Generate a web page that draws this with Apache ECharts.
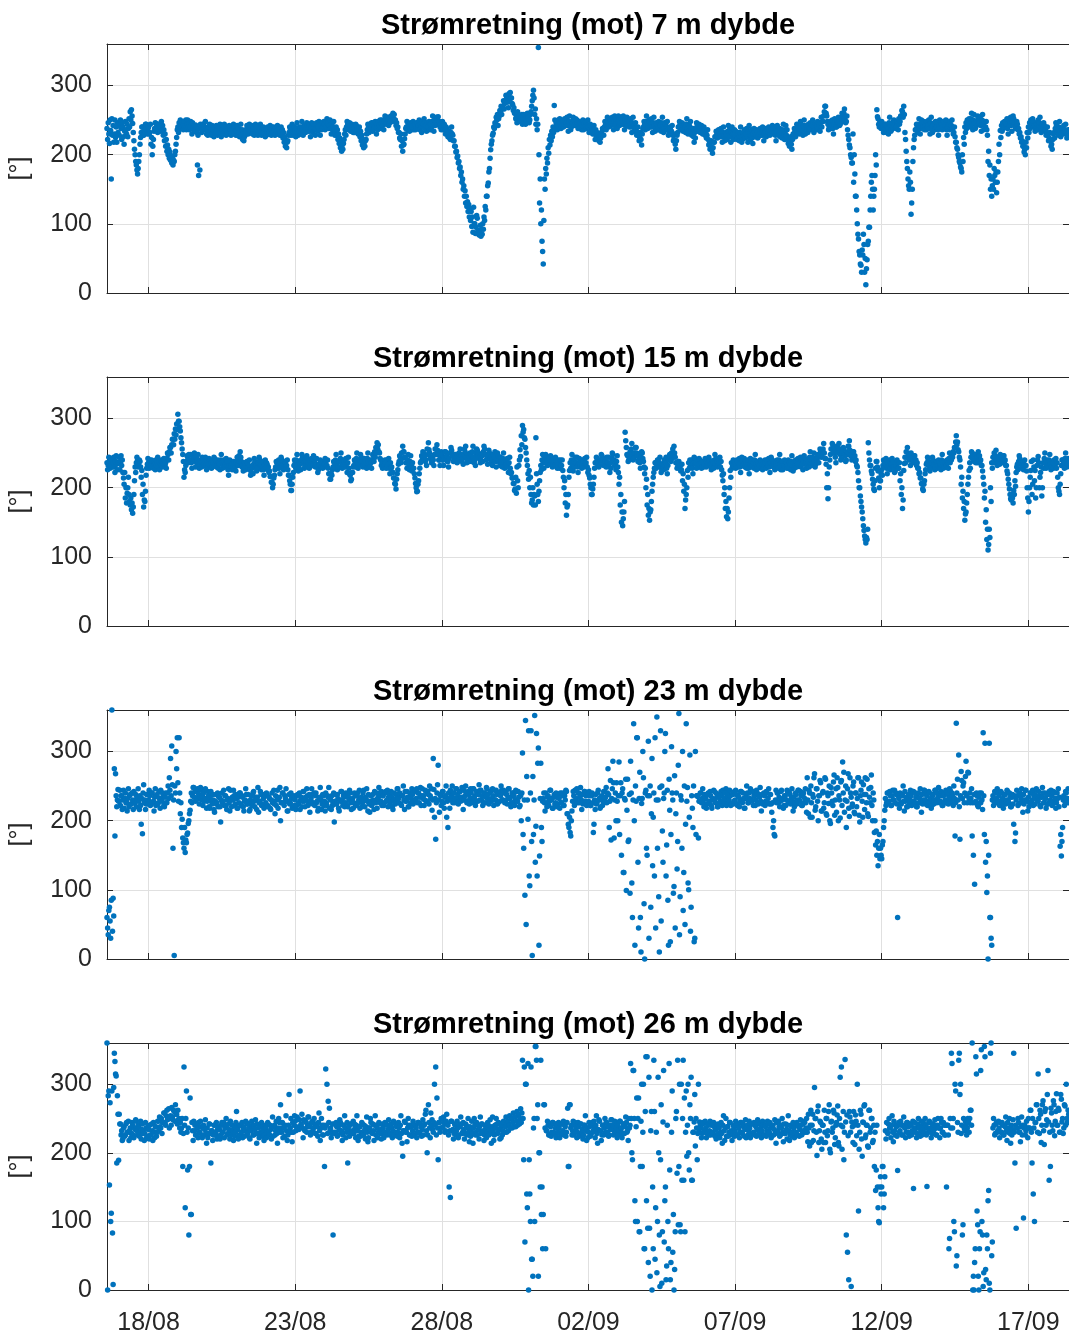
<!DOCTYPE html>
<html>
<head>
<meta charset="utf-8">
<script src="https://cdn.jsdelivr.net/npm/echarts@6/dist/echarts.min.js"></script>
<style>
  html, body { margin: 0; padding: 0; background: #fff; overflow: hidden; }
  #chart { width: 1069px; height: 1336px; }
</style>
</head>
<body>
<div id="chart"></div>
<script>
// Current direction (towards), half-hourly samples per measuring depth.
// Row 0 starts 16/08 14:00; every following row is one day (00:00-23:30) from 17/08 on.
const depths = [7, 15, 23, 26];
const tickLabels = ['18/08', '23/08', '28/08', '02/09', '07/09', '12/09', '17/09'];
const yTicks = [0, 100, 200, 300];

const dir7m = [
  [238,222,246,230,216,250,235,165,252,228,242,218,230,250,225,240,218,246,232,244],
  [228,242,250,238,222,246,240,226,215,234,248,236,230,244,226,238,252,240,262,250,265,256,245,232,220,208,200,190,185,178,172,180,190,200,215,225,232,240,240,228,228,238,236,244,244,232,230,238],
  [240,230,232,244,215,225,200,212,222,234,238,246,245,236,242,232,236,244,244,234,240,248,235,242,228,236,220,230,212,222,205,214,200,208,195,204,192,198,188,196,185,192,190,200,205,215,225,236],
  [240,232,246,238,250,242,238,246,244,236,248,240,242,250,236,244,250,240,245,236,240,248,238,230,246,238,242,234,235,243,240,232,185,228,170,238,178,244,240,232,236,244,244,236,240,248,238,230],
  [236,228,240,232,244,234,238,228,242,232,236,226,240,232,234,242,236,228,240,232,238,244,232,226,236,242,230,238,244,234,236,228,240,232,238,230,242,234,236,228,232,240,236,244,230,238,234,228],
  [234,242,228,238,232,226,236,244,228,236,222,230,220,226,228,236,234,242,238,230,236,244,240,232,234,242,230,236,238,228,236,244,232,240,236,228,240,234,236,244,234,228,238,232,240,236,234,226],
  [236,228,232,240,238,230,234,242,236,228,240,232,232,240,236,228,238,230,234,242,230,238,236,228,232,240,228,236,224,232,218,226,212,220,210,218,220,228,232,240,236,228,238,244,234,228,232,240],
  [234,226,238,246,236,228,232,240,238,230,240,248,236,228,234,242,240,232,238,246,242,234,236,244,234,226,238,246,240,232,244,236,236,228,238,246,242,234,240,248,236,228,244,236,246,238,240,248],
  [244,236,248,240,252,244,246,238,242,250,238,230,244,236,240,248,236,228,232,240,228,236,222,230,216,224,210,218,205,214,208,216,222,230,236,228,240,248,244,236,238,246,242,234,236,244,240,232],
  [240,232,236,244,242,234,238,230,232,240,226,234,220,228,214,222,210,218,212,220,222,230,236,244,240,232,244,236,238,246,242,234,246,238,240,248,238,230,244,236,248,240,242,250,246,238,250,242],
  [244,236,248,256,252,244,246,254,250,242,254,246,248,256,256,248,260,252,258,250,250,242,246,238,240,232,232,224,222,230,212,220,205,214,215,223,230,238,240,248,236,244,242,234,238,246,244,236],
  [240,248,236,244,244,236,238,246,246,238,242,250,236,244,240,232,248,240,244,252,238,246,242,234,246,238,240,248,236,244,244,236,248,256,242,234,250,242,246,254,252,244,255,247,248,240,244,236],
  [240,248,236,244,244,236,230,240,238,230,226,234,234,224,222,232,240,230,228,220,220,212,212,204,205,196,198,188,190,180,182,170,175,160,165,150,155,140,148,130,140,125,132,118,128,110,122,105],
  [118,96,110,88,124,100,100,86,95,112,108,90,90,84,86,98,82,92,85,100,92,110,105,125,120,140,140,155,159,175,180,195,207,215,220,228,231,240,238,246,245,254,250,258,242,252,256,264],
  [262,270,258,266,270,278,266,274,278,286,284,276,276,268,288,280,290,282,282,274,272,264,268,260,260,252,254,246,262,254,248,256,256,248,250,258,244,252,258,250,252,244,246,254,260,252,254,246],
  [250,258,262,270,278,286,293,282,258,266,244,252,236,244,355,200,130,165,100,120,75,60,42,105,165,150,180,172,195,188,210,202,222,214,228,220,234,226,240,232,271,250,238,246,244,236,242,250],
  [244,252,246,238,240,248,248,240,244,252,250,242,246,254,242,234,248,256,244,236,240,248,246,254,250,242,244,252,242,250,246,238,240,248,238,246,244,236,242,250,236,244,240,248,246,238,242,250],
  [240,232,236,244,242,234,238,230,234,242,230,222,236,228,232,224,228,220,226,218,224,232,230,238,236,228,240,248,244,236,246,254,248,240,242,250,250,242,246,254,244,236,248,256,242,250,246,238],
  [248,256,250,242,246,254,252,244,248,256,244,236,250,242,246,254,242,250,248,240,244,252,240,232,246,254,242,234,238,246,236,228,232,240,228,220,224,232,222,214,230,238,240,248,244,236,248,256],
  [246,238,242,250,248,240,244,252,240,232,246,254,242,234,238,246,244,236,240,248,236,244,242,234,246,254,240,232,238,246,244,236,240,248,236,228,232,240,238,230,234,242,228,220,222,230,215,208],
  [220,228,232,240,240,248,244,236,238,246,242,234,236,244,240,232,244,252,238,230,234,242,240,248,236,228,230,238,226,218,232,224,238,246,242,234,236,244,240,232,234,242,238,230,232,240,236,228],
  [232,224,228,236,222,214,216,208,212,220,208,202,210,218,218,226,226,234,232,224,228,236,234,226,230,238,226,218,232,240,228,220,224,232,230,222,234,242,228,236,226,218,232,240,230,222,228,236],
  [226,234,230,222,224,232,228,220,232,240,226,218,222,230,228,236,232,224,230,238,226,218,234,242,230,222,228,236,224,216,230,238,234,226,228,236,232,224,226,234,230,238,236,228,232,240,228,220],
  [230,238,234,226,228,236,232,240,236,228,230,238,234,242,238,230,232,240,228,220,234,242,236,228,230,238,226,234,232,224,236,244,230,222,234,242,228,236,224,216,220,212,218,226,215,208,222,230],
  [230,238,234,226,236,244,232,240,238,230,240,248,234,242,236,228,242,250,238,230,234,242,240,232,244,236,238,246,236,244,242,250,240,232,236,244,244,236,240,248,238,246,242,234,246,254,240,248],
  [248,256,262,270,270,260,256,248,244,236,240,248,246,238,242,250,238,230,244,252,248,240,240,248,246,254,250,242,244,252,252,260,256,248,260,266,254,246,248,256,236,228,222,214,210,200,196,188],
  [188,230,160,200,172,140,140,120,100,85,78,60,55,42,40,30,62,55,85,70,30,50,12,35,48,70,75,95,95,120,140,160,170,150,120,140,150,170,200,185,265,255,252,244,240,248,246,238],
  [248,240,240,232,236,244,244,236,232,240,238,230,246,254,242,234,236,244,240,248,250,242,246,238,240,248,244,236,252,244,248,256,256,264,262,254,270,258,232,222,205,190,180,165,155,150,175,160],
  [114,130,150,190,210,222,228,236,236,244,240,232,244,252,238,230,242,250,246,238,240,248,236,244,244,236,248,240,242,250,238,230,246,254,240,232,236,244,244,236,248,240,240,248,236,228,242,250],
  [238,246,244,236,240,248,246,238,242,250,236,228,240,248,244,236,248,240,242,250,238,230,232,240,226,218,218,210,208,200,196,190,188,182,180,175,200,190,225,215,240,232,246,238,250,242,244,252],
  [248,240,252,260,244,236,250,258,246,238,240,248,248,256,252,244,246,254,242,234,250,258,244,236,248,240,240,248,236,228,190,205,170,185,150,165,140,155,165,150,180,170,160,175,145,160,175,190],
  [215,200,235,225,242,234,246,238,240,248,248,240,244,252,238,230,250,242,246,254,242,234,248,256,252,244,246,238,240,248,244,236,238,230,232,224,226,218,220,212,212,204,208,200,218,210,232,224],
  [240,232,246,238,250,242,244,252,248,240,242,234,238,246,244,236,250,242,246,254,240,232,244,236,238,246,242,234,236,228,232,240,228,220,224,232,220,212,215,208,222,230,232,224,238,246,242,234],
  [236,228,240,248,234,226,230,238,238,230,242,234,236,244,232,224,228,236,234,226,230]
];

const dir15m = [
  [236,226,232,244,238,228,234,242,240,230,236,244,230,222,238,246,234,226,236,244],
  [236,226,238,246,232,240,222,214,205,222,185,200,178,192,200,215,190,180,175,185,168,178,163,172,190,210,230,222,236,244,240,230,232,240,238,230,215,225,190,205,172,182,180,195,218,228,234,242],
  [236,228,240,232,232,240,238,230,228,236,234,226,240,232,236,244,230,238,226,234,232,240,238,230,234,242,240,232,236,228,242,250,248,240,252,258,258,250,262,270,270,262,278,270,285,276,292,284],
  [306,296,296,288,282,272,265,256,248,238,215,226,222,232,238,246,244,236,248,240,240,248,236,228,246,238,242,250,238,230,244,236,240,248,236,228,232,240,238,230,244,236,240,232,236,244,234,226],
  [238,230,234,242,240,232,236,228,230,238,236,244,242,234,238,230,232,240,228,236,234,226,240,248,236,228,232,240,238,230,234,242,230,238,226,218,232,240,238,230,234,226,230,238,236,228,232,224],
  [236,244,240,232,246,238,252,244,238,230,232,224,228,236,234,226,230,238,236,228,232,240,226,218,222,230,228,220,234,242,238,230,232,224,228,236,236,244,240,232,234,226,230,238,226,218,232,240],
  [228,236,234,226,230,222,224,216,216,208,208,200,205,214,218,226,230,238,236,228,232,240,228,220,236,244,240,232,234,226,230,238,236,228,232,240,226,218,218,210,205,196,196,205,215,222,232,240],
  [236,228,240,248,232,224,228,236,234,226,240,248,244,236,236,228,232,240,238,246,242,234,236,228,230,238,234,242,240,232,246,238,238,230,234,242,230,222,226,234,232,240,238,230,236,228,230,238],
  [234,242,238,230,232,240,228,220,220,212,212,220,218,226,230,238,236,228,240,248,234,226,230,238,238,230,242,250,236,228,232,240,238,230,234,242,230,222,236,244,228,220,218,210,212,222,222,230],
  [232,240,238,230,242,250,236,228,232,240,240,248,244,236,238,230,234,242,240,232,236,228,242,250,238,230,232,240,236,228,240,248,246,238,252,244,258,250,265,256,262,252,250,242,240,232,236,228],
  [238,230,232,240,236,228,240,232,234,242,228,220,236,228,230,222,222,214,214,206,205,198,212,220,226,234,238,246,244,236,250,242,260,252,252,244,244,236,236,228,240,248,234,226,238,246,232,224],
  [236,228,228,220,214,206,200,194,195,205,210,220,228,236,238,246,244,252,250,242,246,238,240,232,256,248,265,255,250,242,244,236,236,244,240,232,248,256,256,248,262,254,248,240,240,232,244,252],
  [248,240,240,232,244,252,252,244,246,238,238,230,242,250,250,258,254,246,246,238,240,248,248,240,244,236,238,246,250,242,256,248,246,238,242,234,248,256,252,260,244,236,240,248,246,238,250,242],
  [246,238,252,260,244,236,240,232,248,256,254,246,250,242,244,236,240,248,246,238,252,260,256,248,248,240,242,234,246,254,250,242,244,236,240,232,248,240,244,252,238,230,242,250,246,238,240,232],
  [244,236,238,230,242,250,236,228,240,232,234,242,230,222,236,244,228,220,222,214,214,206,206,196,198,215,192,230,210,200,232,240,255,245,275,262,290,280,284,272,270,258,250,240,232,220,212,225],
  [200,215,190,178,182,200,175,190,188,175,272,220,205,190,180,195,210,222,232,226,240,248,236,228,244,236,248,240,240,232,236,244,242,234,246,238,238,230,234,242,240,232,244,236,236,228,232,240],
  [236,228,240,232,232,240,225,215,200,210,178,190,160,172,175,190,215,225,236,228,240,248,232,224,238,230,244,236,236,244,230,222,234,242,240,232,236,228,232,240,238,230,242,234,236,244,230,222],
  [226,218,214,205,200,190,190,198,205,215,228,236,236,244,242,234,238,230,232,240,240,248,246,238,240,232,234,242,238,230,244,236,236,244,230,222,236,228,242,250,248,240,240,232,234,226,238,246],
  [230,222,205,215,175,190,150,165,145,155,165,180,280,268,258,248,246,238,240,248,252,244,256,264,248,240,242,250,250,258,258,250,246,238,240,248,236,228,244,252,250,242,238,230,220,228,200,212],
  [175,190,160,170,153,165,168,180,195,205,215,222,228,236,236,228,232,240,240,232,236,244,230,222,226,234,234,226,240,232,236,244,228,220,232,240,240,248,246,238,250,242,256,248,260,250,244,236],
  [236,228,230,238,238,230,232,224,226,234,210,220,195,205,170,182,190,200,225,215,236,228,240,232,232,240,228,220,236,244,242,234,236,228,230,238,234,242,240,232,236,228,230,238,238,230,234,242],
  [238,230,232,240,236,244,240,232,234,226,230,238,236,228,240,248,234,242,238,230,232,240,236,244,230,238,226,218,210,220,190,200,170,180,158,170,155,165,185,200,225,215,236,228,232,240,238,230],
  [236,228,232,240,238,230,234,242,230,222,236,244,240,232,234,242,230,238,236,228,232,240,228,220,234,242,238,230,232,240,236,228,240,248,234,226,230,238,236,228,232,240,238,230,234,226,230,238],
  [232,240,236,228,240,232,234,242,230,222,236,244,232,240,238,230,234,226,228,236,232,240,236,228,240,248,234,226,230,238,226,234,232,240,238,230,236,228,232,240,228,236,234,226,238,246,232,224],
  [236,228,232,240,238,230,234,242,240,232,236,244,230,238,234,226,238,246,242,234,236,228,232,240,238,230,244,252,240,232,236,244,242,250,238,230,234,242,240,248,244,236,248,256,252,244,246,254],
  [256,264,250,242,242,234,200,220,184,200,230,240,248,256,256,264,262,254,250,258,244,236,252,260,258,250,264,256,248,240,242,250,250,258,256,248,246,238,240,248,252,260,260,268,254,246,248,240],
  [244,252,252,244,246,238,240,232,230,222,210,200,200,188,180,172,165,155,145,138,130,125,120,128,125,140,265,250,240,232,232,224,220,212,205,198,196,210,228,238,238,230,224,214,200,210,210,220],
  [226,218,232,240,238,230,234,242,228,220,236,228,232,240,226,234,234,242,238,230,230,222,224,232,232,240,236,228,228,236,210,220,190,200,170,182,225,235,244,236,252,244,258,250,248,240,240,232],
  [250,242,244,236,238,246,246,238,240,232,236,228,228,220,222,214,214,206,205,198,196,205,210,220,226,234,236,244,240,232,232,224,228,236,236,244,240,232,234,226,230,238,236,228,232,240,238,230],
  [234,226,240,248,236,228,230,238,238,230,232,240,236,228,242,250,236,244,240,248,244,252,250,258,258,266,275,262,266,255,252,244,240,230,205,215,185,195,170,180,153,162,165,178,190,205,215,225],
  [236,228,244,252,250,242,246,238,240,248,236,244,244,236,252,244,246,238,240,232,232,224,215,205,185,195,150,168,125,140,110,118,140,128,200,180,236,228,244,236,250,242,246,254,240,232,236,244],
  [242,234,248,240,244,236,238,246,246,238,240,232,232,224,220,212,205,198,190,184,182,190,185,178,196,190,210,202,222,230,234,226,238,246,242,234,236,228,230,238,226,234,240,232,232,224,200,185],
  [165,180,200,215,225,238,190,205,240,230,210,225,185,200,232,240,245,236,200,215,222,230,188,200,236,228,242,250,236,228,232,240,238,230,240,248,234,226,230,238,236,228,240,232,234,242,228,236],
  [215,200,195,190,205,220,232,240,240,232,236,228,242,250,238,230,234,242,240,232,236]
];

const dir23m = [
  [60,45,35,70,75,55,30,85,360,40,88,62,275,178,268,236,220,230,245,228],
  [228,244,222,236,236,216,230,244,218,232,240,226,226,214,232,246,220,236,238,224,224,240,230,216,242,228,226,238,220,234,234,246,228,216,236,222,195,232,181,240,252,226,230,216,224,238,238,224],
  [230,244,236,222,224,240,240,226,228,214,234,246,222,236,238,224,226,242,232,218,244,230,228,240,236,222,220,234,240,226,226,240,250,232,262,244,290,236,308,252,160,230,5,250,240,300,275,320],
  [255,228,320,240,210,226,190,202,175,168,160,190,154,172,168,180,182,196,200,210,215,228,240,226,236,248,248,234,242,228,230,244,246,232,238,224,234,248,244,230,236,222,240,228,232,246,230,218],
  [228,242,236,220,218,232,242,228,224,238,230,216,212,228,238,224,226,240,220,234,234,220,198,230,240,226,228,244,222,236,236,222,216,230,232,246,226,214,244,230,220,234,230,244,236,222,224,238],
  [232,218,218,234,226,240,240,224,222,236,234,220,214,228,230,246,238,224,224,238,228,214,216,230,236,222,226,240,242,228,220,234,230,216,234,248,212,226,228,242,238,222,224,238,232,218,220,236],
  [226,240,238,222,220,234,232,218,216,230,240,226,228,244,224,210,236,222,230,244,218,232,234,248,200,226,226,240,240,226,222,236,232,246,228,214,214,228,238,224,226,240,232,218,220,234,236,222],
  [230,216,222,236,238,224,226,240,216,230,234,220,228,242,242,228,220,234,230,246,236,222,224,238,212,228,232,246,238,224,226,240,222,236,240,226,228,214,218,232,234,248,230,216,224,238,236,222],
  [228,214,240,226,222,236,234,248,218,232,230,216,236,222,226,240,198,228,238,224,224,238,232,218,214,230,228,242,242,228,222,236,234,220,226,240,236,222,220,234,230,244,240,226,216,230,232,218],
  [226,240,236,222,222,236,240,226,230,244,218,232,234,220,226,240,244,230,220,234,232,246,228,214,238,224,212,228,236,222,224,238,230,216,242,228,226,240,218,232,234,248,240,226,228,242,222,236],
  [236,222,226,240,242,228,230,244,220,234,238,224,228,242,234,220,216,230,240,226,224,238,232,246,246,232,226,240,238,224,222,236,236,250,230,216,242,228,228,242,234,220,220,234,240,226,232,246],
  [238,224,228,242,244,230,232,246,226,240,240,226,234,248,222,236,246,232,236,222,230,244,242,228,228,242,238,224,250,236,232,246,215,230,290,245,205,232,173,226,240,252,280,230,212,238,236,222],
  [228,242,242,226,218,234,236,250,205,228,190,240,232,218,244,230,236,250,226,240,240,226,232,246,246,232,238,224,228,242,242,228,234,248,230,216,244,230,236,250,240,226,228,242,238,224,232,246],
  [240,226,232,246,246,232,236,222,228,242,242,228,238,252,230,244,244,230,236,222,226,240,240,226,234,248,246,232,238,224,228,242,242,228,232,246,236,222,244,230,230,244,238,224,226,240,240,228],
  [236,250,244,230,230,244,240,226,228,242,238,224,232,246,246,232,234,220,226,240,240,226,236,222,230,244,242,228,228,242,234,220,222,236,200,240,298,180,160,230,92,345,50,264,230,202,330,120],
  [106,240,330,170,5,264,180,230,352,140,192,326,120,283,305,20,149,232,283,190,170,228,232,240,226,214,240,226,220,234,236,222,228,244,244,230,232,218,218,234,238,224,226,240,234,220,224,238],
  [232,218,240,226,226,240,236,222,222,236,230,244,242,210,210,195,190,205,183,178,200,214,228,242,236,222,244,230,232,246,226,240,240,226,234,248,230,216,238,224,228,242,242,228,236,222,224,238],
  [228,242,236,222,222,236,240,226,183,195,230,216,238,224,226,240,244,230,232,218,220,234,236,222,228,242,242,228,234,248,226,240,275,238,190,228,258,172,232,246,286,255,175,230,240,200,255,228],
  [200,236,285,180,236,255,150,240,246,125,125,232,230,260,99,215,260,170,172,238,95,286,240,110,60,230,340,200,20,250,228,320,320,140,45,232,270,60,10,225,232,300,262,80,0,240,244,160],
  [150,236,315,30,236,250,75,210,290,135,205,240,120,320,45,230,350,160,230,90,10,248,330,55,250,185,140,232,240,300,326,120,165,244,85,20,260,215,25,180,307,240,230,95,105,265,45,210],
  [240,130,170,280,355,35,90,236,230,160,300,70,125,250,50,195,340,228,248,110,100,205,295,40,75,236,218,190,250,25,30,300,180,236,236,235,175,228,228,240,240,226,232,246,226,220,238,232],
  [232,218,224,238,240,226,228,242,236,222,218,232,230,244,242,228,226,240,234,220,220,234,238,224,228,242,236,222,244,230,226,240,232,246,222,236,240,226,230,244,236,222,224,238,238,224,228,242],
  [230,244,238,224,222,236,234,220,228,242,242,228,226,240,232,218,218,232,236,250,240,226,226,240,232,246,244,230,228,242,222,236,236,222,230,244,240,226,224,238,234,248,228,214,238,224,226,240],
  [236,222,228,242,240,226,232,246,224,238,238,224,212,226,190,200,180,178,230,244,226,240,240,226,234,220,228,242,244,230,232,218,222,236,236,222,230,244,242,228,226,240,238,224,232,246,228,214],
  [234,220,226,240,238,224,230,244,244,230,228,242,236,222,222,236,240,226,232,246,226,212,262,230,210,244,240,205,250,226,205,238,234,262,268,215,220,246,246,228,200,236,236,258,255,214,214,240],
  [242,218,226,262,260,210,208,240,236,225,250,200,196,248,240,228,222,256,266,208,230,246,212,262,248,200,236,230,204,256,258,222,285,240,270,212,230,250,190,228,246,268,218,206,262,240,234,220],
  [224,250,256,212,210,240,240,220,232,262,262,208,198,236,244,256,228,205,252,238,216,262,238,226,260,210,206,246,234,226,248,266,222,200,240,230,183,200,165,185,150,170,135,160,180,145,160,150],
  [145,165,170,190,200,215,232,222,226,240,240,226,228,242,236,222,222,236,244,230,230,244,226,240,238,224,60,236,232,218,240,226,224,238,236,250,228,214,242,228,234,220,220,234,238,224,230,244],
  [236,222,228,242,242,228,226,240,234,220,220,234,240,226,232,246,226,212,238,224,230,244,244,230,224,238,236,222,228,242,240,226,232,218,222,236,238,224,230,244,244,230,226,240,234,248,240,226],
  [228,242,236,222,222,236,240,226,230,244,226,240,238,224,232,246,244,230,226,240,236,222,250,232,178,226,341,240,260,230,295,220,173,236,271,258,232,250,255,226,240,264,286,236,226,270,269,232],
  [240,226,232,246,178,226,150,238,108,226,228,240,236,222,220,234,240,226,226,240,230,216,327,236,180,312,140,170,96,120,0,150,312,60,60,30,20,230,236,222,228,242,240,226,232,246,226,240],
  [236,222,228,242,240,226,232,218,224,238,238,224,230,244,242,228,226,240,234,220,220,234,238,224,195,236,170,182,230,244,236,222,224,238,240,226,232,246,226,212,238,224,230,244,244,230,228,214],
  [234,220,226,240,240,226,230,244,222,236,238,224,232,246,244,230,228,242,236,222,220,234,234,248,240,226,226,240,232,218,238,224,224,238,242,228,230,244,236,222,228,242,240,226,232,218,226,240],
  [232,246,220,234,163,180,149,170,190,230,236,222,228,242,240,226,232,246,226,240,238]
];

const dir26m = [
  [360,0,283,290,153,273,100,112,290,83,8,295,345,333,315,312,185,283,256,189],
  [256,242,242,226,232,218,220,236,238,224,226,242,244,230,230,246,218,232,236,222,228,244,240,226,222,236,234,248,246,232,226,240,238,224,230,246,220,234,242,228,232,218,228,244,236,222,224,238],
  [234,220,240,226,226,242,232,218,244,230,222,238,238,224,230,246,246,232,252,238,236,250,228,244,244,258,258,244,240,254,262,248,250,264,236,250,254,240,266,252,248,262,260,246,270,256,256,242],
  [262,248,250,236,244,230,236,250,180,228,325,240,120,250,290,230,175,236,80,180,280,110,110,244,232,218,246,232,240,226,226,242,236,222,244,230,230,246,238,224,222,236,240,226,234,248,228,214],
  [236,222,228,242,242,228,185,232,232,218,226,240,240,226,230,244,220,234,238,224,234,220,226,240,244,230,230,244,222,236,236,250,240,226,228,242,234,220,246,232,226,240,232,218,238,224,230,244],
  [260,240,234,220,226,240,240,226,230,244,222,236,238,224,232,246,244,230,228,242,236,222,220,234,232,246,240,226,226,240,234,248,228,214,242,228,236,222,224,238,230,244,238,224,232,218,226,240],
  [236,222,230,244,242,228,226,240,234,220,238,252,224,238,240,226,232,246,228,214,236,250,244,230,270,236,230,244,222,236,238,224,240,254,232,218,226,240,285,230,236,250,230,216,244,230,240,254],
  [246,232,238,252,250,236,234,248,290,240,242,256,236,222,248,234,232,246,244,230,238,252,252,238,240,226,230,244,246,232,236,250,242,228,228,242,238,224,244,258,232,218,236,250,240,226,226,240],
  [180,236,322,240,300,228,275,244,265,232,236,222,228,242,80,230,242,228,230,244,238,224,226,240,234,248,244,230,232,218,226,240,240,254,236,222,230,244,185,232,238,224,228,242,242,228,232,246],
  [228,242,236,222,240,254,232,218,224,238,238,224,230,244,242,228,226,240,234,220,238,252,230,216,222,236,236,250,244,230,228,242,232,218,240,254,226,240,236,222,230,244,242,228,234,220,228,242],
  [236,222,230,244,242,228,226,240,234,248,240,226,228,242,236,222,232,246,244,230,226,240,238,224,230,244,236,222,240,254,228,214,195,232,232,246,244,230,230,216,236,250,240,226,226,240,238,224],
  [232,246,240,226,226,240,236,222,230,244,244,230,228,242,238,224,234,248,226,240,242,256,262,232,200,226,270,244,236,222,258,240,248,234,230,244,300,240,325,226,280,236,190,244,244,230,236,250],
  [250,236,238,252,244,230,232,246,256,242,240,226,150,232,135,246,246,232,234,220,228,242,240,226,232,246,236,222,226,240,238,252,242,228,230,244,234,220,228,242,240,226,236,250,230,216,238,224],
  [232,246,228,214,236,250,240,226,230,244,226,240,234,220,238,252,228,242,242,228,232,218,226,240,236,222,230,244,240,226,234,248,228,214,238,252,232,218,226,240,236,250,242,228,230,244,234,220],
  [236,222,240,226,232,246,244,230,238,252,230,244,246,232,240,254,236,250,250,236,244,258,238,252,252,238,246,260,240,254,256,242,250,264,244,258,335,250,190,325,70,300,300,140,120,330,0,190],
  [140,100,325,45,45,20,236,250,100,355,355,335,250,270,20,200,200,150,335,110,150,60,110,270,270,236,60,232,232,246,240,226,226,240,238,224,230,244,244,230,228,242,236,222,242,228,230,244],
  [236,222,228,242,242,228,232,246,226,240,238,224,230,244,265,180,180,270,270,236,240,226,232,246,226,240,244,230,236,222,230,244,238,224,228,242,242,228,234,220,226,240,240,254,232,218,236,222],
  [230,244,238,224,226,240,244,230,232,246,236,222,240,254,228,214,234,248,246,232,232,218,226,240,240,226,236,250,230,244,244,230,238,224,226,240,234,248,248,234,240,226,232,246,244,230,236,222],
  [240,226,232,246,246,232,236,222,228,242,242,228,238,252,244,230,232,218,250,236,240,330,250,200,190,320,320,250,130,100,238,280,100,250,280,85,85,180,246,300,180,230,300,60,60,260,340,130],
  [340,90,40,310,90,20,232,260,0,150,60,335,260,45,120,230,25,100,310,200,80,5,190,270,10,85,245,320,70,130,150,15,35,240,100,60,330,175,15,40,230,290,55,110,0,30,85,250],
  [260,170,335,95,180,300,95,85,300,160,250,335,160,280,85,230,290,195,240,300,200,175,270,250,310,160,160,230,230,245,285,210,250,236,190,228,300,232,245,240,236,222,228,242,244,230,232,246],
  [236,222,228,242,240,226,232,246,226,240,244,230,230,244,238,224,234,220,226,240,242,228,236,222,230,244,228,214,240,254,232,218,236,250,224,238,238,224,230,244,244,230,232,218,226,240,238,224],
  [232,246,240,226,226,240,236,222,230,244,244,230,228,242,238,224,234,248,222,236,240,226,232,246,236,222,228,242,242,228,230,244,226,240,238,224,234,248,244,230,228,242,236,222,232,246,240,226],
  [226,240,238,224,232,246,242,228,230,244,236,222,224,238,240,226,234,248,228,214,244,230,232,246,238,224,226,240,236,250,230,216,242,228,228,242,234,220,240,254,232,218,226,240,238,224,230,244],
  [236,222,242,228,230,244,226,240,238,224,234,248,240,226,228,242,232,246,244,230,236,250,230,216,256,236,210,240,262,215,240,256,218,232,295,250,250,230,196,260,268,215,232,246,244,220,205,240],
  [240,215,262,230,215,250,250,225,232,260,270,205,200,245,246,230,236,262,258,212,222,240,244,255,268,215,210,250,310,240,325,205,238,260,190,230,336,245,80,255,55,225,15,260,252,230,5,245],
  [238,215,260,240,212,255,246,225,300,240,115,205,230,262,256,220,195,245,244,268,270,222,226,240,240,210,208,262,262,230,236,250,250,215,218,240,180,230,145,175,240,150,120,100,98,150,165,140],
  [150,180,180,120,140,165,232,220,244,230,228,242,250,236,236,222,240,254,230,216,246,232,226,240,238,224,174,240,244,230,232,246,240,226,226,240,252,238,236,222,230,244,244,230,238,224,228,242],
  [240,226,232,246,148,236,244,230,236,222,228,242,250,236,238,224,232,246,226,240,244,230,236,250,240,226,151,236,230,244,246,232,236,222,228,242,242,228,234,248,240,226,226,240,250,236,236,222],
  [236,250,244,230,230,244,240,226,226,240,150,240,240,226,60,75,250,236,345,330,236,250,100,85,300,290,35,50,244,230,335,345,285,300,228,240,80,95,250,236,232,246,240,226,236,250,244,230],
  [250,262,262,240,360,0,20,0,40,60,340,315,115,95,20,0,60,85,320,350,100,80,5,25,355,340,30,15,80,60,130,145,10,0,345,360,50,70,236,250,240,226,228,242,244,230,232,246],
  [236,222,244,230,230,244,240,226,226,240,238,252,232,218,244,230,236,250,228,214,240,226,234,248,345,230,185,240,90,236,236,250,244,230,230,216,238,252,226,240,105,236,240,226,232,246,236,222],
  [250,236,236,262,262,230,185,250,140,236,100,244,244,270,270,230,315,250,228,262,256,215,240,270,276,232,212,260,264,240,248,285,320,245,160,230,180,265,258,240,232,276,270,225,246,260,286,240],
  [240,265,262,230,230,285,278,245,250,228,236,270,268,240,300,250,244,262,256,238,238]
];

const panels = [dir7m, dir15m, dir23m, dir26m];

const YEAR = 2021;
const STEP = 30 * 60 * 1000;
const DAY = 24 * 3600 * 1000;
const firstSample = Date.UTC(YEAR, 7, 16, 14);
const firstMidnight = Date.UTC(YEAR, 7, 17);
const axisStart = firstSample;
const axisEnd = Date.UTC(YEAR, 8, 18, 9, 15);

function toPoints(rows) {
  const pts = [];
  rows.forEach((row, r) => {
    const t0 = r === 0 ? firstSample : firstMidnight + (r - 1) * DAY;
    row.forEach((v, j) => pts.push([t0 + j * STEP, v]));
  });
  return pts;
}

const tickTimes = tickLabels.map(s => {
  const [d, m] = s.split('/').map(Number);
  return Date.UTC(YEAR, m - 1, d);
});
function fmtDate(v) {
  const dt = new Date(v);
  const dd = String(dt.getUTCDate()).padStart(2, '0');
  const mm = String(dt.getUTCMonth() + 1).padStart(2, '0');
  return dd + '/' + mm;
}

const FONT = '"Liberation Sans", Arial, Helvetica, sans-serif';
const INK = '#262626';
const GRIDLINE = '#e0e0e0';
const gridTops = [44, 377, 710, 1043];
const gridHeight = 249;

const grids = [], xAxes = [], yAxes = [], series = [], titles = [];

panels.forEach((rows, i) => {
  grids.push({ left: 106, top: gridTops[i], width: 964, height: gridHeight, containLabel: false });

  titles.push({
    text: 'Strømretning (mot) ' + depths[i] + ' m dybde',
    left: 588, top: gridTops[i] - 34, textAlign: 'center', padding: 0,
    textStyle: { fontFamily: FONT, fontSize: 29, fontWeight: 'bold', color: '#000', lineHeight: 32 }
  });

  const line = { show: true, onZero: false, lineStyle: { color: INK, width: 1 } };
  // bottom date axis
  xAxes.push({
    type: 'value', gridIndex: i, position: 'bottom', min: axisStart, max: axisEnd,
    axisLine: line,
    axisTick: { show: true, inside: true, length: 6, customValues: tickTimes, lineStyle: { color: INK } },
    axisLabel: {
      show: i === panels.length - 1, customValues: tickTimes, formatter: fmtDate,
      fontFamily: FONT, fontSize: 25, color: INK, margin: 21
    },
    splitLine: { show: true, lineStyle: { color: GRIDLINE, width: 1 } }
  });
  // top frame axis
  xAxes.push({
    type: 'value', gridIndex: i, position: 'top', min: axisStart, max: axisEnd,
    axisLine: line,
    axisTick: { show: true, inside: true, length: 6, customValues: tickTimes, lineStyle: { color: INK } },
    axisLabel: { show: false },
    splitLine: { show: false }
  });
  // left degree axis
  yAxes.push({
    type: 'value', gridIndex: i, position: 'left', min: 0, max: 360, interval: 100,
    name: '[°]', nameLocation: 'middle', nameGap: 74, nameRotate: 90,
    nameTextStyle: { fontFamily: FONT, fontSize: 25, color: INK },
    axisLine: line,
    axisTick: { show: true, inside: true, length: 6, customValues: yTicks, lineStyle: { color: INK } },
    axisLabel: { customValues: yTicks, fontFamily: FONT, fontSize: 25, color: INK, margin: 15 },
    splitLine: { show: true, lineStyle: { color: GRIDLINE, width: 1 } }
  });
  // right frame axis
  yAxes.push({
    type: 'value', gridIndex: i, position: 'right', min: 0, max: 360, interval: 100,
    axisLine: line,
    axisTick: { show: true, inside: true, length: 6, customValues: yTicks, lineStyle: { color: INK } },
    axisLabel: { show: false },
    splitLine: { show: false }
  });

  series.push({
    type: 'scatter', xAxisIndex: 2 * i, yAxisIndex: 2 * i,
    data: toPoints(rows), symbol: 'circle', symbolSize: 5.5,
    itemStyle: { color: '#0072BD', opacity: 1 }, silent: true
  });
});

const chart = echarts.init(document.getElementById('chart'), null, { renderer: 'canvas' });
chart.setOption({
  animation: false,
  backgroundColor: '#fff',
  title: titles,
  grid: grids,
  xAxis: xAxes,
  yAxis: yAxes,
  series: series
});
</script>
</body>
</html>
